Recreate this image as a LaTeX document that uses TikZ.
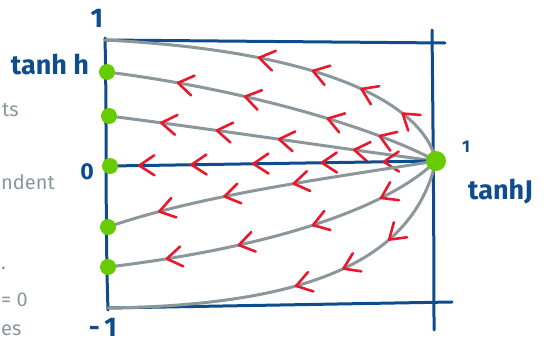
\documentclass[tikz,border=0pt]{standalone}
\usepackage{fontspec}
\setmainfont{Fira Sans}
\usetikzlibrary{decorations.markings}
\definecolor{inkblue}{HTML}{0E4C8C}
\definecolor{inkgray}{HTML}{8C979C}
\definecolor{inkred}{HTML}{E8192C}
\definecolor{inkgreen}{HTML}{66CC00}
\tikzset{
  chev/.style={inkred, line width=2.6pt, line cap=round, line join=round},
  flow/.style={inkgray, line width=3pt, line cap=round},
  frame/.style={inkblue, line width=3pt, line cap=round, line join=round},
  dot/.style={circle, fill=inkgreen, inner sep=0pt, minimum size=16pt},
  bigdot/.style={circle, fill=inkgreen, inner sep=0pt, minimum size=20pt},
  lbl/.style={inkblue, font=\bfseries\fontsize{27}{30}\selectfont, inner sep=0pt},
  side/.style={inkgray, font=\fontsize{20}{22}\selectfont, inner sep=0pt}
}
\newcommand{\chevmark}{\draw[chev] (-15pt,10pt) -- (0pt,0pt) -- (-15pt,-10pt);}
\begin{document}
\begin{tikzpicture}[x=1pt,y=-1pt]
\useasboundingbox (0,0) rectangle (554,343);
\clip (0,0) rectangle (554,343);
% points
\coordinate (tl) at (105,40);
\coordinate (bl) at (108,308);
\coordinate (l1) at (107,72);
\coordinate (l2) at (109,116);
\coordinate (l3) at (110,166);
\coordinate (l4) at (108,227);
\coordinate (l5) at (108,267);
\coordinate (r) at (436,161);
% frame
\draw[frame] (105,38) .. controls (107,120) and (105,220) .. (108,310);
\draw[frame] (tl) -- (445,43);
\draw[frame] (432,30) .. controls (433,120) and (434,230) .. (434,330);
\draw[frame] (bl) -- (452,302);
% flow lines with chevrons
\draw[flow, postaction={decorate, decoration={markings,
   mark=at position 0.16 with {\chevmark},
   mark=at position 0.29 with {\chevmark},
   mark=at position 0.43 with {\chevmark},
   mark=at position 0.58 with {\chevmark}}}]
   (r) .. controls (425,110) and (340,52) .. (tl);
\draw[flow, postaction={decorate, decoration={markings,
   mark=at position 0.18 with {\chevmark},
   mark=at position 0.34 with {\chevmark},
   mark=at position 0.59 with {\chevmark},
   mark=at position 0.79 with {\chevmark}}}]
   (r) .. controls (380,130) and (250,90) .. (l1);
\draw[flow, postaction={decorate, decoration={markings,
   mark=at position 0.25 with {\chevmark},
   mark=at position 0.48 with {\chevmark},
   mark=at position 0.67 with {\chevmark},
   mark=at position 0.84 with {\chevmark}}}]
   (r) .. controls (350,150) and (220,130) .. (l2);
\draw[frame, postaction={decorate, decoration={markings,
   mark=at position 0.16 with {\chevmark},
   mark=at position 0.35 with {\chevmark},
   mark=at position 0.56 with {\chevmark},
   mark=at position 0.75 with {\chevmark},
   mark=at position 0.91 with {\chevmark}}}]
   (r) -- (l3);
\draw[flow, postaction={decorate, decoration={markings,
   mark=at position 0.43 with {\chevmark},
   mark=at position 0.64 with {\chevmark},
   mark=at position 0.84 with {\chevmark}}}]
   (r) .. controls (330,178) and (200,195) .. (l4);
\draw[flow, postaction={decorate, decoration={markings,
   mark=at position 0.19 with {\chevmark},
   mark=at position 0.40 with {\chevmark},
   mark=at position 0.62 with {\chevmark},
   mark=at position 0.83 with {\chevmark}}}]
   (r) .. controls (380,215) and (250,250) .. (l5);
\draw[flow, postaction={decorate, decoration={markings,
   mark=at position 0.24 with {\chevmark},
   mark=at position 0.38 with {\chevmark},
   mark=at position 0.51 with {\chevmark}}}]
   (r) .. controls (415,250) and (330,305) .. (bl);
% dots
\node[dot] (d1) at (l1) {};
\node[dot] (d2) at (l2) {};
\node[dot] (d3) at (l3) {};
\node[dot] (d4) at (l4) {};
\node[dot] (d5) at (l5) {};
\node[bigdot] (dr) at (r) {};
% labels
\node[lbl] (one) at (97,18) {1};
\node[lbl, font=\bfseries\fontsize{23}{25}\selectfont] (zero) at (87,172) {0};
\node[lbl] (mone) at (103,327) {-\,1};
\node[lbl] (tanhh) at (50,64) {tanh h};
\node[lbl, font=\bfseries\fontsize{17}{19}\selectfont] (rone) at (466,147) {1};
\node[lbl, anchor=west] (tanhJ) at (468,192) {tanhJ};
% side notes (fragments at the left edge)
\node[side, anchor=west] (s1) at (2,110) {ts};
\node[side, anchor=west] (s2) at (1,182) {ndent};
\node[side, anchor=west] (s3) at (1,268) {.};
\node[side, anchor=west] (s4) at (1,300) {= 0};
\node[side, anchor=west] (s5) at (1,330) {es};
\end{tikzpicture}
\end{document}
